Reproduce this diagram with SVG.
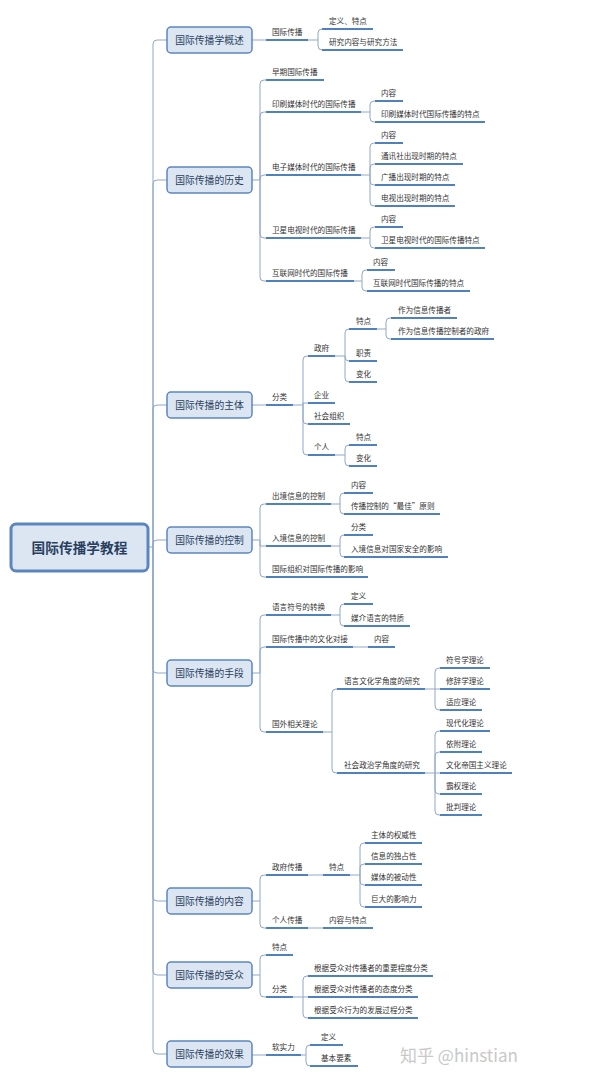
<svg xmlns="http://www.w3.org/2000/svg" width="600" height="1080" viewBox="0 0 600 1080">
<style>
.t{font-family:"Noto Sans CJK SC",sans-serif;font-size:7.6px;fill:#333}
.ul{stroke:#4f81bd;stroke-width:2}
.c{stroke:#8fa8c8;stroke-width:1;fill:none}
.b{fill:#dce6f2;stroke:#5b86bd;stroke-width:1.5}
.bt{font-family:"Noto Sans CJK SC",sans-serif;font-size:9.8px;fill:#2a3f5f;text-anchor:middle}
</style>
<rect width="600" height="1080" fill="#fff"/>
<g id="connectors">
<path class="c" d="M148 547H153M153 547V44Q153 40 157 40H167M153 547V184Q153 180 157 180H167M153 547V409Q153 405 157 405H167M153 547V544Q153 540 157 540H167M153 547V669Q153 673 157 673H167M153 547V897Q153 901 157 901H167M153 547V971Q153 975 157 975H167M153 547V1050Q153 1054 157 1054H167"/>
<path class="c" d="M252 40H266M308 40H318V33Q318 29 322 29H322M318 40V46Q318 50 322 50"/>
<path class="c" d="M252 180H260V84Q260 80 264 80H266M260 180V116Q260 112 264 112H266M260 180V179Q260 175 264 175H266M260 180V234Q260 238 264 238H266M260 180V277Q260 281 264 281H266"/>
<path class="c" d="M361 112H370V105Q370 101 374 101H375M370 112V118Q370 122 374 122H375"/>
<path class="c" d="M361 175H370V147Q370 143 374 143H375M370 175V168Q370 164 374 164H375M370 175V181Q370 185 374 185H375M370 175V202Q370 206 374 206H375"/>
<path class="c" d="M361 238H370V231Q370 227 374 227H375M370 238V244Q370 248 374 248H375"/>
<path class="c" d="M354 281H362V274Q362 270 366 270H367M362 281V287Q362 291 366 291H367"/>
<path class="c" d="M252 405H266"/>
<path class="c" d="M293 405H303V360Q303 356 307 356H308M303 405V403H308M303 405V420Q303 424 307 424H308M303 405V451Q303 455 307 455H308"/>
<path class="c" d="M335 356H345V333Q345 329 349 329M345 356V357Q345 361 349 361M345 356V378Q345 382 349 382"/>
<path class="c" d="M377 329H386V322Q386 318 390 318H391M386 329V335Q386 339 390 339H391"/>
<path class="c" d="M335 455H345V449Q345 445 349 445M345 455V462Q345 466 349 466"/>
<path class="c" d="M252 540H260V508Q260 504 264 504H266M260 540V546H266M260 540V573Q260 577 264 577H266"/>
<path class="c" d="M331 504H340V497Q340 493 344 493M340 504V510Q340 514 344 514"/>
<path class="c" d="M331 546H340V539Q340 535 344 535M340 546V553Q340 557 344 557"/>
<path class="c" d="M252 673H260V619Q260 615 264 615H266M260 673V651Q260 647 264 647H266M260 673V728Q260 732 264 732H266"/>
<path class="c" d="M331 615H340V608Q340 604 344 604M340 615V622Q340 626 344 626"/>
<path class="c" d="M353 647H368"/>
<path class="c" d="M323 732H332V693Q332 689 336 689H337M332 732V769Q332 773 336 773H337"/>
<path class="c" d="M425 689H435V672Q435 668 439 668H440M435 689H440M435 689V706Q435 710 439 710H440"/>
<path class="c" d="M425 773H435V735Q435 731 439 731H440M435 773V756Q435 752 439 752H440M435 773H440M435 773V790Q435 794 439 794H440M435 773V811Q435 815 439 815H440"/>
<path class="c" d="M252 901H260V879Q260 875 264 875H266M260 901V924Q260 928 264 928H266"/>
<path class="c" d="M308 875H323M308 928H323"/>
<path class="c" d="M350 875H360V847Q360 843 364 843H365M360 875V868Q360 864 364 864H365M360 875V881Q360 885 364 885H365M360 875V903Q360 907 364 907H365"/>
<path class="c" d="M252 975H260V959Q260 955 264 955H266M260 975V993Q260 997 264 997H266"/>
<path class="c" d="M293 997H303V980Q303 976 307 976H308M303 997H308M303 997V1014Q303 1018 307 1018H308"/>
<path class="c" d="M252 1055H266M301 1055H306V1049Q306 1045 310 1045M306 1055V1062Q306 1066 310 1066"/>
</g>
<g id="root"><rect x="11" y="524" width="137" height="47" rx="5" fill="#dce6f2" stroke="#5b86bd" stroke-width="3"/><text x="79.5" y="552.5" class="bt" style="font-size:13.7px;font-weight:bold">国际传播学教程</text></g>
<g id="b1"><rect class="b" x="167" y="27" width="85" height="26" rx="4"/><text class="bt" x="209.5" y="43.5">国际传播学概述</text></g>
<g id="b2"><rect class="b" x="167" y="167" width="85" height="26" rx="4"/><text class="bt" x="209.5" y="183.5">国际传播的历史</text></g>
<g id="b3"><rect class="b" x="167" y="392" width="85" height="26" rx="4"/><text class="bt" x="209.5" y="408.5">国际传播的主体</text></g>
<g id="b4"><rect class="b" x="167" y="527" width="85" height="26" rx="4"/><text class="bt" x="209.5" y="543.5">国际传播的控制</text></g>
<g id="b5"><rect class="b" x="167" y="660" width="85" height="26" rx="4"/><text class="bt" x="209.5" y="676.5">国际传播的手段</text></g>
<g id="b6"><rect class="b" x="167" y="888" width="85" height="26" rx="4"/><text class="bt" x="209.5" y="904.5">国际传播的内容</text></g>
<g id="b7"><rect class="b" x="167" y="962" width="85" height="26" rx="4"/><text class="bt" x="209.5" y="978.5">国际传播的受众</text></g>
<g id="b8"><rect class="b" x="167" y="1041" width="85" height="26" rx="4"/><text class="bt" x="209.5" y="1057.5">国际传播的效果</text></g>

<g id="n1"><line class="ul" x1="266" y1="40" x2="308" y2="40"/><text class="t" x="272" y="35">国际传播</text></g>
<g id="n1a"><line class="ul" x1="322" y1="29" x2="373" y2="29"/><text class="t" x="329" y="24">定义、特点</text></g>
<g id="n1b"><line class="ul" x1="322" y1="50" x2="403" y2="50"/><text class="t" x="329" y="45">研究内容与研究方法</text></g>

<g id="n2a"><line class="ul" x1="266" y1="80" x2="324" y2="80"/><text class="t" x="272" y="75">早期国际传播</text></g>
<g id="n2b"><line class="ul" x1="266" y1="112" x2="361" y2="112"/><text class="t" x="272" y="107">印刷媒体时代的国际传播</text></g>
<g id="n2b1"><line class="ul" x1="375" y1="101" x2="403" y2="101"/><text class="t" x="381" y="96">内容</text></g>
<g id="n2b2"><line class="ul" x1="375" y1="122" x2="485" y2="122"/><text class="t" x="381" y="117">印刷媒体时代国际传播的特点</text></g>
<g id="n2c"><line class="ul" x1="266" y1="175" x2="361" y2="175"/><text class="t" x="272" y="170">电子媒体时代的国际传播</text></g>
<g id="n2c1"><line class="ul" x1="375" y1="143" x2="403" y2="143"/><text class="t" x="381" y="138">内容</text></g>
<g id="n2c2"><line class="ul" x1="375" y1="164" x2="463" y2="164"/><text class="t" x="381" y="159">通讯社出现时期的特点</text></g>
<g id="n2c3"><line class="ul" x1="375" y1="185" x2="455" y2="185"/><text class="t" x="381" y="180">广播出现时期的特点</text></g>
<g id="n2c4"><line class="ul" x1="375" y1="206" x2="455" y2="206"/><text class="t" x="381" y="201">电视出现时期的特点</text></g>
<g id="n2d"><line class="ul" x1="266" y1="238" x2="361" y2="238"/><text class="t" x="272" y="233">卫星电视时代的国际传播</text></g>
<g id="n2d1"><line class="ul" x1="375" y1="227" x2="403" y2="227"/><text class="t" x="381" y="222">内容</text></g>
<g id="n2d2"><line class="ul" x1="375" y1="248" x2="485" y2="248"/><text class="t" x="381" y="243">卫星电视时代的国际传播特点</text></g>
<g id="n2e"><line class="ul" x1="266" y1="281" x2="354" y2="281"/><text class="t" x="272" y="276">互联网时代的国际传播</text></g>
<g id="n2e1"><line class="ul" x1="367" y1="270" x2="395" y2="270"/><text class="t" x="373" y="265">内容</text></g>
<g id="n2e2"><line class="ul" x1="367" y1="291" x2="470" y2="291"/><text class="t" x="373" y="286">互联网时代国际传播的特点</text></g>

<g id="n3"><line class="ul" x1="266" y1="405" x2="293" y2="405"/><text class="t" x="272" y="400">分类</text></g>
<g id="n3a"><line class="ul" x1="308" y1="356" x2="335" y2="356"/><text class="t" x="314" y="351">政府</text></g>
<g id="n3a1"><line class="ul" x1="349" y1="329" x2="377" y2="329"/><text class="t" x="356" y="324">特点</text></g>
<g id="n3a1a"><line class="ul" x1="391" y1="318" x2="457" y2="318"/><text class="t" x="398" y="313">作为信息传播者</text></g>
<g id="n3a1b"><line class="ul" x1="391" y1="339" x2="494" y2="339"/><text class="t" x="398" y="334">作为信息传播控制者的政府</text></g>
<g id="n3a2"><line class="ul" x1="349" y1="361" x2="377" y2="361"/><text class="t" x="356" y="356">职责</text></g>
<g id="n3a3"><line class="ul" x1="349" y1="382" x2="377" y2="382"/><text class="t" x="356" y="377">变化</text></g>
<g id="n3b"><line class="ul" x1="308" y1="403" x2="335" y2="403"/><text class="t" x="314" y="398">企业</text></g>
<g id="n3c"><line class="ul" x1="308" y1="424" x2="350" y2="424"/><text class="t" x="314" y="419">社会组织</text></g>
<g id="n3d"><line class="ul" x1="308" y1="455" x2="335" y2="455"/><text class="t" x="314" y="450">个人</text></g>
<g id="n3d1"><line class="ul" x1="349" y1="445" x2="377" y2="445"/><text class="t" x="356" y="440">特点</text></g>
<g id="n3d2"><line class="ul" x1="349" y1="466" x2="377" y2="466"/><text class="t" x="356" y="461">变化</text></g>

<g id="n4a"><line class="ul" x1="266" y1="504" x2="331" y2="504"/><text class="t" x="272" y="499">出境信息的控制</text></g>
<g id="n4a1"><line class="ul" x1="344" y1="493" x2="373" y2="493"/><text class="t" x="351" y="488">内容</text></g>
<g id="n4a2"><line class="ul" x1="344" y1="514" x2="440" y2="514"/><text class="t" x="351" y="509">传播控制的“最佳”原则</text></g>
<g id="n4b"><line class="ul" x1="266" y1="546" x2="331" y2="546"/><text class="t" x="272" y="541">入境信息的控制</text></g>
<g id="n4b1"><line class="ul" x1="344" y1="535" x2="373" y2="535"/><text class="t" x="351" y="530">分类</text></g>
<g id="n4b2"><line class="ul" x1="344" y1="557" x2="448" y2="557"/><text class="t" x="351" y="552">入境信息对国家安全的影响</text></g>
<g id="n4c"><line class="ul" x1="266" y1="577" x2="368" y2="577"/><text class="t" x="272" y="572">国际组织对国际传播的影响</text></g>

<g id="n5a"><line class="ul" x1="266" y1="615" x2="331" y2="615"/><text class="t" x="272" y="610">语言符号的转换</text></g>
<g id="n5a1"><line class="ul" x1="344" y1="604" x2="373" y2="604"/><text class="t" x="351" y="599">定义</text></g>
<g id="n5a2"><line class="ul" x1="344" y1="626" x2="410" y2="626"/><text class="t" x="351" y="621">媒介语言的特质</text></g>
<g id="n5b"><line class="ul" x1="266" y1="647" x2="353" y2="647"/><text class="t" x="272" y="642">国际传播中的文化对接</text></g>
<g id="n5b1"><line class="ul" x1="368" y1="647" x2="395" y2="647"/><text class="t" x="374" y="642">内容</text></g>
<g id="n5c"><line class="ul" x1="266" y1="732" x2="323" y2="732"/><text class="t" x="272" y="727">国外相关理论</text></g>
<g id="n5c1"><line class="ul" x1="337" y1="689" x2="425" y2="689"/><text class="t" x="344" y="684">语言文化学角度的研究</text></g>
<g id="n5c1a"><line class="ul" x1="440" y1="668" x2="490" y2="668"/><text class="t" x="446" y="663">符号学理论</text></g>
<g id="n5c1b"><line class="ul" x1="440" y1="689" x2="490" y2="689"/><text class="t" x="446" y="684">修辞学理论</text></g>
<g id="n5c1c"><line class="ul" x1="440" y1="710" x2="482" y2="710"/><text class="t" x="446" y="705">适应理论</text></g>
<g id="n5c2"><line class="ul" x1="337" y1="773" x2="425" y2="773"/><text class="t" x="344" y="768">社会政治学角度的研究</text></g>
<g id="n5c2a"><line class="ul" x1="440" y1="731" x2="490" y2="731"/><text class="t" x="446" y="726">现代化理论</text></g>
<g id="n5c2b"><line class="ul" x1="440" y1="752" x2="482" y2="752"/><text class="t" x="446" y="747">依附理论</text></g>
<g id="n5c2c"><line class="ul" x1="440" y1="773" x2="512" y2="773"/><text class="t" x="446" y="768">文化帝国主义理论</text></g>
<g id="n5c2d"><line class="ul" x1="440" y1="794" x2="482" y2="794"/><text class="t" x="446" y="789">霸权理论</text></g>
<g id="n5c2e"><line class="ul" x1="440" y1="815" x2="482" y2="815"/><text class="t" x="446" y="810">批判理论</text></g>

<g id="n6a"><line class="ul" x1="266" y1="875" x2="308" y2="875"/><text class="t" x="272" y="870">政府传播</text></g>
<g id="n6a1"><line class="ul" x1="323" y1="875" x2="350" y2="875"/><text class="t" x="329" y="870">特点</text></g>
<g id="n6a1a"><line class="ul" x1="365" y1="843" x2="422" y2="843"/><text class="t" x="371" y="838">主体的权威性</text></g>
<g id="n6a1b"><line class="ul" x1="365" y1="864" x2="422" y2="864"/><text class="t" x="371" y="859">信息的独占性</text></g>
<g id="n6a1c"><line class="ul" x1="365" y1="885" x2="422" y2="885"/><text class="t" x="371" y="880">媒体的被动性</text></g>
<g id="n6a1d"><line class="ul" x1="365" y1="907" x2="422" y2="907"/><text class="t" x="371" y="902">巨大的影响力</text></g>
<g id="n6b"><line class="ul" x1="266" y1="928" x2="308" y2="928"/><text class="t" x="272" y="923">个人传播</text></g>
<g id="n6b1"><line class="ul" x1="323" y1="928" x2="373" y2="928"/><text class="t" x="329" y="923">内容与特点</text></g>

<g id="n7a"><line class="ul" x1="266" y1="955" x2="293" y2="955"/><text class="t" x="272" y="950">特点</text></g>
<g id="n7b"><line class="ul" x1="266" y1="997" x2="293" y2="997"/><text class="t" x="272" y="992">分类</text></g>
<g id="n7b1"><line class="ul" x1="308" y1="976" x2="433" y2="976"/><text class="t" x="314" y="971">根据受众对传播者的重要程度分类</text></g>
<g id="n7b2"><line class="ul" x1="308" y1="997" x2="418" y2="997"/><text class="t" x="314" y="992">根据受众对传播者的态度分类</text></g>
<g id="n7b3"><line class="ul" x1="308" y1="1018" x2="418" y2="1018"/><text class="t" x="314" y="1013">根据受众行为的发展过程分类</text></g>

<g id="n8"><line class="ul" x1="266" y1="1055" x2="301" y2="1055"/><text class="t" x="272" y="1050">软实力</text></g>
<g id="n8a"><line class="ul" x1="310" y1="1045" x2="343" y2="1045"/><text class="t" x="321" y="1040">定义</text></g>
<g id="n8b"><line class="ul" x1="310" y1="1066" x2="358" y2="1066"/><text class="t" x="321" y="1061">基本要素</text></g>

<text x="400" y="1062" style="font-family:'Noto Sans CJK SC',sans-serif;font-size:17px;fill:#c8c8c8">知乎 @hinstian</text>
</svg>
